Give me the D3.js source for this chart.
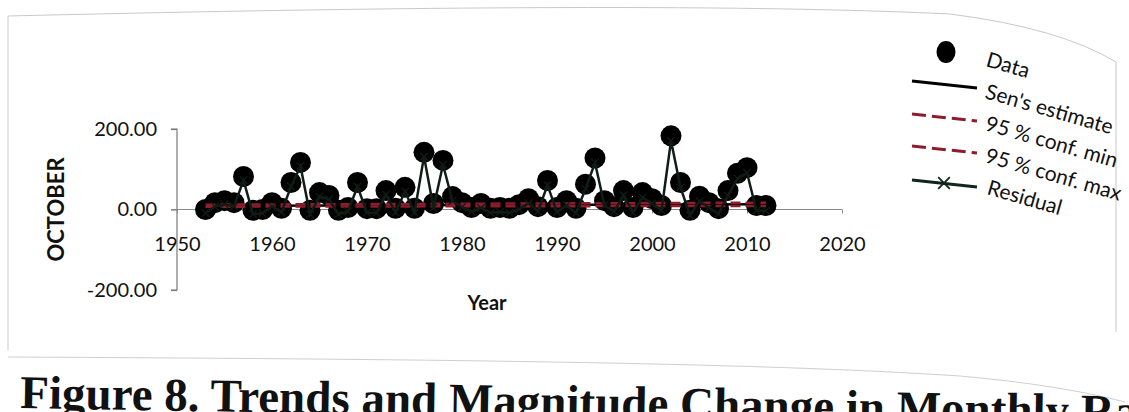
<!DOCTYPE html>
<html>
<head>
<meta charset="utf-8">
<script src="https://cdn.jsdelivr.net/npm/d3@7"></script>
<style>
  html, body { margin: 0; padding: 0; background: #fff; }
  svg { display: block; }
</style>
</head>
<body>
<svg id="chart" width="1129" height="412"></svg>
<script>
// October series, 1953–2012
const years = [
  1953, 1954, 1955, 1956, 1957, 1958, 1959, 1960, 1961, 1962,
  1963, 1964, 1965, 1966, 1967, 1968, 1969, 1970, 1971, 1972,
  1973, 1974, 1975, 1976, 1977, 1978, 1979, 1980, 1981, 1982,
  1983, 1984, 1985, 1986, 1987, 1988, 1989, 1990, 1991, 1992,
  1993, 1994, 1995, 1996, 1997, 1998, 1999, 2000, 2001, 2002,
  2003, 2004, 2005, 2006, 2007, 2008, 2009, 2010, 2011, 2012
];
const october = [
  0, 17, 22, 17, 82, -2, 0, 17, 3, 67,
  117, -2, 42, 35, -2, 5, 67, 2, 2, 47,
  3, 55, 3, 142, 15, 122, 32, 17, 5, 15,
  3, 5, 3, 12, 27, 7, 72, 5, 22, 3,
  63, 128, 22, 7, 47, 5, 42, 27, 10, 183,
  67, -2, 33, 17, 2, 47, 90, 104, 10, 10
];

// Trend lines (start / end of the record)
const trendYears = [1953, 2012];
const senEstimate = [9, 13];
const confMin = [7, 9];
const confMax = [12, 17];

const xTicks = [1950, 1960, 1970, 1980, 1990, 2000, 2010, 2020];
const yTicks = [-200, 0, 200];
const legendLabels = ["Data", "Sen's estimate", "95 % conf. min", "95 % conf. max", "Residual"];
const yTitle = "OCTOBER";
const xTitle = "Year";
const captionText = "Figure 8. Trends and Magnitude Change in Monthly Rainfall";

const svg = d3.select("#chart");
const FONT = "Lato, 'Open Sans', sans-serif";

const x = d3.scaleLinear().domain([1950, 2020]).range([177, 842]);
const y = d3.scaleLinear().domain([-200, 200]).range([290, 129]);

// page frame
svg.append("path")
  .attr("d", "M8,350 L8,16 C300,9 700,2 950,14 Q1060,28 1116,62 L1116,332")
  .attr("fill", "none").attr("stroke", "#c9c9c9").attr("stroke-width", 1);
svg.append("path")
  .attr("d", "M8,357 C400,359 750,362 960,376 Q1060,385 1125,402")
  .attr("fill", "none").attr("stroke", "#cfcfcf").attr("stroke-width", 1);

// y axis
const fmt2 = d3.format(".2f");
const yAxis = d3.axisLeft(y).tickValues(yTicks).tickSize(6).tickPadding(14)
  .tickFormat(d => fmt2(d).replace("\u2212", "-"));
const gy = svg.append("g").attr("transform", `translate(${x(1950)},0)`).call(yAxis);
gy.select(".domain").attr("stroke", "#7a7a7a").attr("stroke-width", 1.2)
  .attr("d", `M-6,${y(200)}H0V${y(-200)}H-6`);
gy.selectAll(".tick line").attr("stroke", "#7a7a7a").attr("stroke-width", 1.2);
gy.selectAll(".tick text").attr("font-family", FONT).attr("font-size", 20)
  .attr("fill", "#111");

// x axis through zero
const xAxis = d3.axisBottom(x).tickValues(xTicks).tickSize(4).tickPadding(19)
  .tickFormat(d3.format("d"));
const gx = svg.append("g").attr("transform", `translate(0,${y(0)})`).call(xAxis);
gx.select(".domain").attr("stroke", "#8a8a8a").attr("stroke-width", 1.2)
  .attr("d", `M${x(1950) - 6},0H${x(2020)}`);
gx.selectAll(".tick line").attr("stroke", "#8a8a8a");
gx.selectAll(".tick text").attr("font-family", FONT).attr("font-size", 20)
  .attr("fill", "#111").attr("dy", "0.9em");

// axis titles
svg.append("text")
  .attr("transform", `translate(64,${y(0)}) rotate(-90)`)
  .attr("text-anchor", "middle")
  .attr("font-family", FONT).attr("font-weight", 700).attr("font-size", 22)
  .attr("fill", "#111").text(yTitle);
svg.append("text")
  .attr("x", 487).attr("y", 310)
  .attr("text-anchor", "middle")
  .attr("font-family", FONT).attr("font-weight", 700).attr("font-size", 20)
  .attr("fill", "#111").text(xTitle);

// data points
const points = years.map((yr, i) => ({ year: yr, value: october[i] }));
svg.append("g").selectAll("circle").data(points).join("circle")
  .attr("cx", d => x(d.year)).attr("cy", d => y(d.value))
  .attr("r", 10.5).attr("fill", "#000");

// trend lines
const trendLine = d3.line().x(d => x(d[0])).y(d => y(d[1]));
const trendSets = [
  { vals: senEstimate, color: "#000", dash: null },
  { vals: confMin, color: "#8c1d2c", dash: "10,5" },
  { vals: confMax, color: "#8c1d2c", dash: "10,5" }
];
trendSets.forEach(t => {
  svg.append("path")
    .datum(trendYears.map((yr, i) => [yr, t.vals[i]]))
    .attr("d", trendLine)
    .attr("fill", "none").attr("stroke", t.color).attr("stroke-width", 2.5)
    .attr("stroke-dasharray", t.dash);
});

// residuals = data − Sen's estimate
const senAt = d3.scaleLinear().domain(trendYears).range(senEstimate);
const residuals = points.map(d => ({ year: d.year, value: d.value - senAt(d.year) }));
svg.append("path")
  .datum(residuals)
  .attr("d", d3.line().x(d => x(d.year)).y(d => y(d.value)))
  .attr("fill", "none").attr("stroke", "#101c16").attr("stroke-width", 2.5);
const cross = d3.symbol().type(d3.symbolX).size(40);
svg.append("g").selectAll("path").data(residuals).join("path")
  .attr("transform", d => `translate(${x(d.year)},${y(d.value)})`)
  .attr("d", cross).attr("fill", "none").attr("stroke", "#101c16").attr("stroke-width", 1.3);

// legend
const legend = svg.append("g");
const rowY = [52, 84, 117, 149, 183];
const symX0 = 912, symX1 = 977;
legend.append("ellipse").attr("cx", 946).attr("cy", rowY[0])
  .attr("rx", 9.5).attr("ry", 11).attr("fill", "#000");
[1, 2, 3, 4].forEach(k => {
  const st = [null, "#000", "#8c1d2c", "#8c1d2c", "#13241b"][k];
  legend.append("line")
    .attr("x1", symX0).attr("y1", rowY[k] - 3)
    .attr("x2", symX1).attr("y2", rowY[k] + 4)
    .attr("stroke", st).attr("stroke-width", 3)
    .attr("stroke-dasharray", (k === 2 || k === 3) ? "14,6" : null);
});
legend.append("path")
  .attr("transform", `translate(944,${rowY[4]})`)
  .attr("d", d3.symbol().type(d3.symbolX).size(90))
  .attr("fill", "none").attr("stroke", "#13241b").attr("stroke-width", 1.8);
const textPos = [[985, 66], [984, 98], [984, 130], [984, 162], [986, 194]];
legendLabels.forEach((lab, i) => {
  legend.append("text")
    .attr("transform", `translate(${textPos[i][0]},${textPos[i][1]}) rotate(16)`)
    .attr("font-family", FONT).attr("font-size", 21).attr("fill", "#111")
    .text(lab);
});

// caption
svg.append("text")
  .attr("transform", "translate(20,408) rotate(1)")
  .attr("font-family", "'Liberation Serif', 'DejaVu Serif', serif")
  .attr("font-weight", 700).attr("font-size", 47).attr("fill", "#111")
  .text(captionText);
</script>
</body>
</html>
